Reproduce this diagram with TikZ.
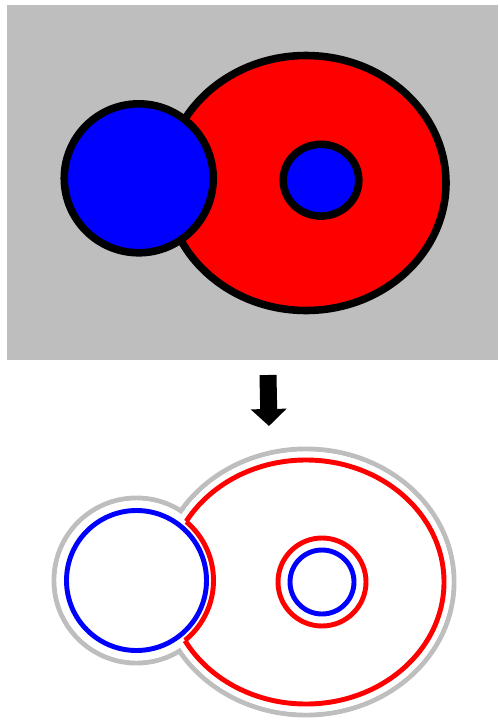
\documentclass[tikz,border=0pt]{standalone}
\usepackage{xcolor}
\usepackage{tikz}
\usetikzlibrary{arrows.meta}
\definecolor{panelgray}{RGB}{190,190,190}
\definecolor{pureblue}{RGB}{0,0,255}
\definecolor{purered}{RGB}{255,0,0}
\begin{document}
\begin{tikzpicture}[x=0.02cm,y=-0.02cm,line join=round,
  blob/.style={draw=black,line width=4.3pt},
  rim/.style={line width=2.8pt}]
\useasboundingbox (0,0) rectangle (498,723);
% top: the filled regions
\coordinate (E) at (306,183);
\coordinate (B) at (138.75,178.3);
\coordinate (S) at (321,180.2);
\fill[panelgray] (7,5) rectangle (498,360);
\filldraw[blob,fill=purered] (E) ellipse [x radius=140,y radius=127.5];
\filldraw[blob,fill=pureblue] (B) circle (74.5);
\filldraw[blob,fill=pureblue] (S) ellipse [x radius=37.8,y radius=35.9];
% arrow
\coordinate (arrtop) at (268,375);
\coordinate (arrtip) at (269,426);
\draw[line width=0.34cm,-{Triangle[length=0.34cm,width=0.7cm]}] (arrtop) -- (arrtip);
% bottom: the outlines
\coordinate (Eb) at (306,582);
\coordinate (Bb) at (136.5,580.5);
\coordinate (Sb) at (322,582);
\draw[rim,panelgray] (Bb) circle (82.5);
\draw[rim,panelgray] (Eb) ellipse [x radius=148,y radius=133];
\fill[white] (Bb) circle (80);
\fill[white] (Eb) ellipse [x radius=145.5,y radius=130.5];
\draw[rim,purered] (Eb) ellipse [x radius=138,y radius=122];
\fill[white] (Bb) circle (77);
\begin{scope}
\clip (Eb) ellipse [x radius=138,y radius=122];
\draw[rim,purered] (Bb) circle (77);
\end{scope}
\draw[rim,pureblue] (Bb) circle (70);
\draw[rim,purered] (Sb) circle (44);
\draw[rim,pureblue] (Sb) circle (32);
\end{tikzpicture}
\end{document}
